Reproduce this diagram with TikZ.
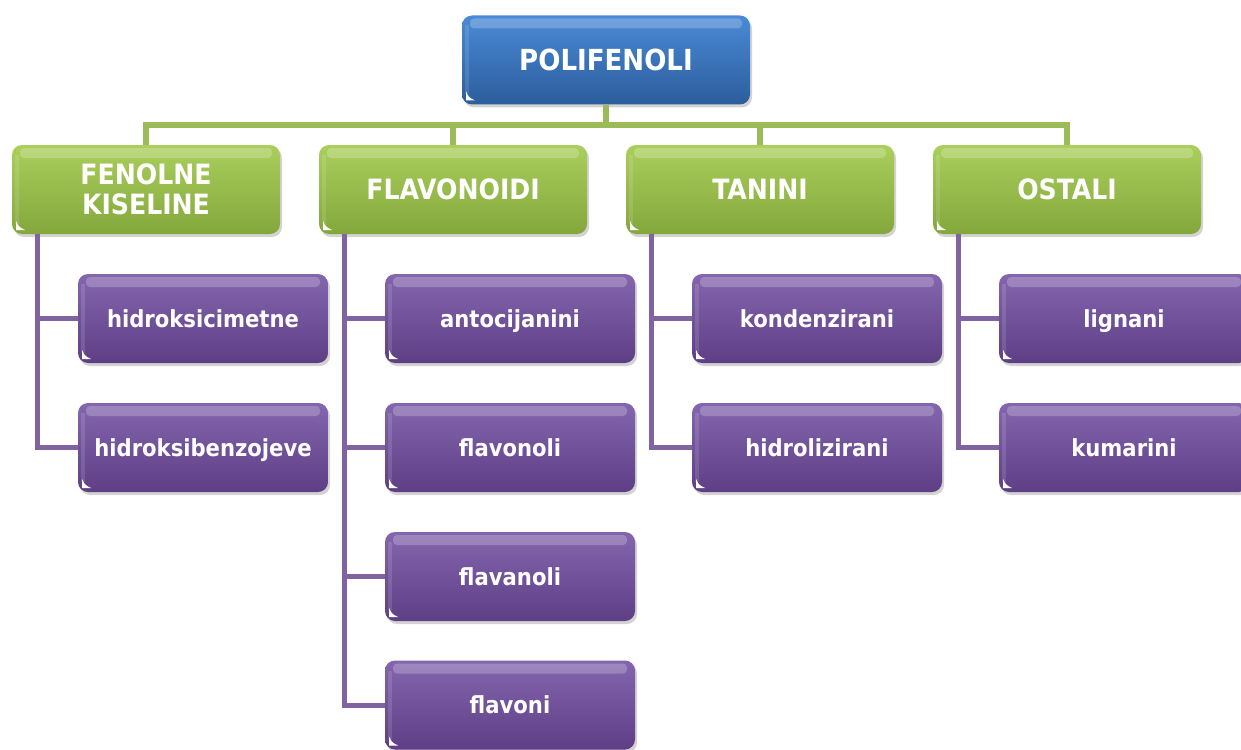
\documentclass[tikz,border=0pt]{standalone}
\usepackage{fontspec}
\setmainfont{DejaVu Sans Condensed}
\usetikzlibrary{shadows}
\definecolor{bluetop}{HTML}{4A8AD6}
\definecolor{bluebot}{HTML}{2C5D9C}
\definecolor{greentop}{HTML}{AACF5C}
\definecolor{greenbot}{HTML}{84A73C}
\definecolor{purptop}{HTML}{8466AE}
\definecolor{purpbot}{HTML}{5E3F86}
\definecolor{gline}{HTML}{9BBB59}
\definecolor{pline}{HTML}{8064A2}
\tikzset{
  box/.style={rounded corners=10pt, text=white, align=center,
    drop shadow={opacity=0.35, shadow xshift=2pt, shadow yshift=-3pt},
    path picture={
      \fill[white, opacity=0.22, rounded corners=4pt]
        ([xshift=8pt,yshift=-3pt]path picture bounding box.north west) rectangle
        ([xshift=-8pt,yshift=-13pt]path picture bounding box.north east);
      \fill[white, opacity=0.12, sharp corners]
        ([xshift=3pt,yshift=-10pt]path picture bounding box.north west) rectangle
        ([xshift=7pt,yshift=10pt]path picture bounding box.south west);
      \fill[white, sharp corners]
        ([xshift=4pt,yshift=4pt]path picture bounding box.south west) -- ++(0pt,9pt)
        .. controls +(3pt,-6pt) and +(-6pt,3pt) .. ++(9pt,-9pt) -- cycle;
    }},
  topbox/.style={box, top color=bluetop, bottom color=bluebot,
    text height=21.2pt, text depth=0pt,
    minimum width=288pt, minimum height=89pt, font=\bfseries\fontsize{29}{31}\selectfont},
  catbox/.style={box, top color=greentop, bottom color=greenbot,
    minimum width=268pt, minimum height=89pt, font=\bfseries\fontsize{28}{30}\selectfont},
  subbox/.style={box, top color=purptop, bottom color=purpbot,
    text height=17.2pt, text depth=0pt,
    minimum width=250pt, minimum height=89pt, font=\bfseries\fontsize{23.5}{26}\selectfont},
  gconn/.style={draw=gline, line width=6pt},
  pconn/.style={draw=pline, line width=5pt},
}
\begin{document}
\begin{tikzpicture}[x=1pt, y=-1pt]
\useasboundingbox (0,0) rectangle (1241,749);
\coordinate (bus) at (0,125);
\node[topbox] (top) at (606,60) {POLIFENOLI};
\node[catbox] (g1) at (146,189.5) {FENOLNE\\KISELINE};
\node[catbox] (g2) at (453,189.5) {FLAVONOIDI};
\node[catbox] (g3) at (760,189.5) {TANINI};
\node[catbox] (g4) at (1067,189.5) {OSTALI};

\draw[gconn] (top.south) -- (top.south |- bus) -| (g1.north);
\draw[gconn] (top.south |- bus) -| (g2.north);
\draw[gconn] (top.south |- bus) -| (g3.north);
\draw[gconn] (top.south |- bus) -| (g4.north);

\coordinate (p11) at (203,318.5);
\coordinate (p12) at (203,447.5);
\coordinate (p21) at (510,318.5);
\coordinate (p22) at (510,447.5);
\coordinate (p23) at (510,576.5);
\coordinate (p24) at (510,705);
\coordinate (p31) at (817,318.5);
\coordinate (p32) at (817,447.5);
\coordinate (p41) at (1124,318.5);
\coordinate (p42) at (1124,447.5);

\draw[pconn] ([xshift=26pt]g1.south west) |- (p11);
\draw[pconn] ([xshift=26pt]g1.south west) |- (p12);
\draw[pconn] ([xshift=26pt]g2.south west) |- (p21);
\draw[pconn] ([xshift=26pt]g2.south west) |- (p22);
\draw[pconn] ([xshift=26pt]g2.south west) |- (p23);
\draw[pconn] ([xshift=26pt]g2.south west) |- (p24);
\draw[pconn] ([xshift=26pt]g3.south west) |- (p31);
\draw[pconn] ([xshift=26pt]g3.south west) |- (p32);
\draw[pconn] ([xshift=26pt]g4.south west) |- (p41);
\draw[pconn] ([xshift=26pt]g4.south west) |- (p42);

\node[subbox] (c11) at (p11) {hidroksicimetne};
\node[subbox] (c12) at (p12) {hidroksibenzojeve};
\node[subbox] (c21) at (p21) {antocijanini};
\node[subbox] (c22) at (p22) {flavonoli};
\node[subbox] (c23) at (p23) {flavanoli};
\node[subbox] (c24) at (p24) {flavoni};
\node[subbox] (c31) at (p31) {kondenzirani};
\node[subbox] (c32) at (p32) {hidrolizirani};
\node[subbox] (c41) at (p41) {lignani};
\node[subbox] (c42) at (p42) {kumarini};
\end{tikzpicture}
\end{document}
